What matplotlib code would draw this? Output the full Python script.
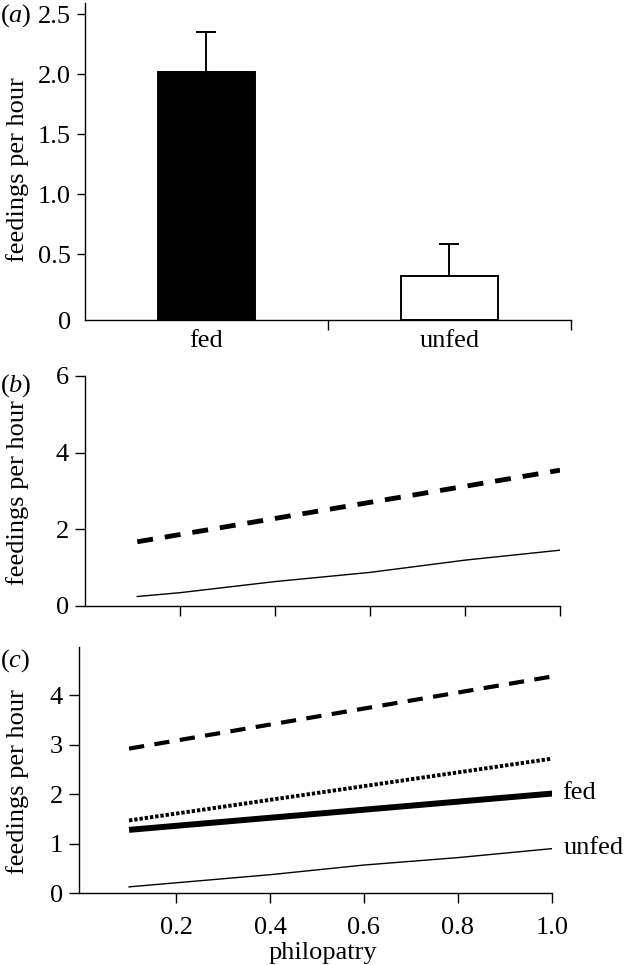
import matplotlib
matplotlib.use("Agg")
import matplotlib.pyplot as plt
import numpy as np

# panel (a): bar chart
cats = ["fed", "unfed"]
bar_vals = [2.02, 0.32]
bar_err = [0.335, 0.265]
bar_fill = ["black", "white"]

# panel (b)
b_x_high = [0.11, 1.0]
b_high = [1.67, 3.54]
b_x_low = [0.11, 0.2, 0.4, 0.6, 0.8, 1.0]
b_low = [0.24, 0.34, 0.63, 0.87, 1.19, 1.45]

# panel (c)
c_x = [0.1, 1.01]
c_dashed = [2.92, 4.39]
c_dotted = [1.47, 2.73]
c_fed = [1.28, 2.02]
c_x_unfed = [0.1, 0.4, 0.6, 0.8, 1.01]
c_unfed = [0.13, 0.375, 0.57, 0.72, 0.91]

a_yticks = [0.5, 1.0, 1.5, 2.0, 2.5]
bc_xticks = [0.2, 0.4, 0.6, 0.8, 1.0]

plt.rcParams["font.family"] = "Liberation Serif"
plt.rcParams["font.size"] = 19
plt.rcParams["mathtext.fontset"] = "custom"
plt.rcParams["mathtext.rm"] = "Liberation Serif"
plt.rcParams["mathtext.it"] = "Liberation Serif:italic"
plt.rcParams["lines.scale_dashes"] = False
plt.rcParams["axes.linewidth"] = 1.0

W, H = 626, 965
fig = plt.figure(figsize=(W / 100, H / 100), dpi=100)


def rect(left, right, top, bottom):
    return [left / W, 1 - bottom / H, (right - left) / W, (bottom - top) / H]


def style(ax):
    for s in ("top", "right"):
        ax.spines[s].set_visible(False)
    ax.tick_params(direction="out", length=7.5, width=1.0, pad=4)
    ax.tick_params(axis="x", pad=7.5)


# (a)
ax1 = fig.add_axes(rect(85, 570.7, 3, 320))
style(ax1)
ax1.tick_params(axis="y", length=6.0)
y0 = -0.048
xpos = np.arange(len(cats))
ax1.bar(xpos, np.array(bar_vals) - y0, bottom=y0, width=0.4,
        color=bar_fill, edgecolor="black", linewidth=1.4, zorder=2)
ax1.errorbar(xpos, bar_vals, yerr=[[0, 0], bar_err], fmt="none",
             ecolor="black", elinewidth=1.4, capsize=7.2, capthick=1.4, zorder=1)
ax1.set_xlim(-0.5, 1.5)
ax1.set_ylim(y0, 2.594)
ax1.set_yticks([y0] + a_yticks)
ax1.set_yticklabels(["0"] + ["%.1f" % v for v in a_yticks])
ax1.yaxis.get_major_ticks()[0].tick1line.set_visible(False)
ax1.set_xticks([0.5, 1.5])
ax1.set_xticklabels([])
ax1.set_xticks(xpos, minor=True)
ax1.set_xticklabels(cats, minor=True)
ax1.tick_params(axis="x", which="minor", length=0, pad=7.5)
ax1.set_ylabel("feedings per hour")
ax1.yaxis.set_label_coords(-0.115, 0.473)

# (b)
ax2 = fig.add_axes(rect(85, 560, 376, 605.7))
style(ax2)
ax2.plot(b_x_high, b_high, color="black", lw=3.5, linestyle=(0, (11.5, 8.6)),
         dash_capstyle="butt")
ax2.plot(b_x_low, b_low, color="black", lw=1.0)
ax2.set_xlim(0, 1.0)
ax2.set_ylim(0, 6)
ax2.set_yticks([0, 2, 4, 6])
ax2.set_xticks(bc_xticks)
ax2.set_xticklabels([])
ax2.set_ylabel("feedings per hour")
ax2.yaxis.set_label_coords(-0.118, 0.493)

# (c)
ax3 = fig.add_axes(rect(79, 551.7, 647, 893.3))
style(ax3)
ax3.tick_params(axis="x", pad=9.5)
ax3.plot(c_x, c_dashed, color="black", lw=3.0, linestyle=(0, (11, 7.5)),
         dash_capstyle="butt")
ax3.plot(c_x, c_dotted, color="black", lw=2.8, linestyle=(0, (2.4, 1.4)),
         dash_capstyle="butt")
ax3.plot(c_x, c_fed, color="black", lw=4.3, solid_capstyle="butt")
ax3.plot(c_x_unfed, c_unfed, color="black", lw=1.0)
ax3.annotate("fed", xy=(c_x[-1], c_fed[-1]), xytext=(4, 0),
             textcoords="offset points", ha="left", va="center",
             annotation_clip=False)
ax3.annotate("unfed", xy=(c_x_unfed[-1], c_unfed[-1]), xytext=(5, 0),
             textcoords="offset points", ha="left", va="center",
             annotation_clip=False)
ax3.set_xlim(-0.0066, 1.0)
ax3.set_ylim(0, 4.97)
ax3.set_yticks([0, 1, 2, 3, 4])
ax3.set_xticks(bc_xticks)
ax3.set_xticklabels(["%.1f" % v for v in bc_xticks])
ax3.set_xlabel("philopatry")
ax3.xaxis.set_label_coords(0.515, -0.197)
ax3.set_ylabel("feedings per hour")
ax3.yaxis.set_label_coords(-0.106, 0.454)

# panel letters
for letter, ypx in (("a", 16), ("b", 385.7), ("c", 660.7)):
    fig.text(0.0, 1 - ypx / H, r"$\mathrm{(}\mathit{%s}\mathrm{)}$" % letter,
             ha="left", va="center")

fig.savefig("out.png", dpi=100)
